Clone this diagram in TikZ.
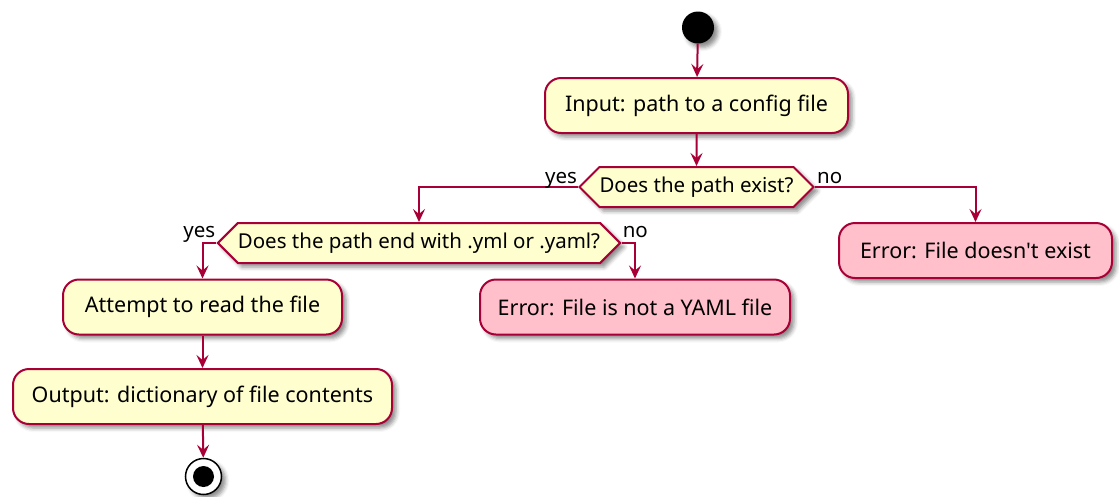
\documentclass[tikz,border=0pt]{standalone}
\usepackage{fontspec}
\setmainfont{Noto Sans}[Ligatures=TeXOff]
\usetikzlibrary{arrows.meta,shapes.symbols,shadows.blur}
\definecolor{umlline}{HTML}{A80036}
\definecolor{umlfill}{HTML}{FEFECE}
\definecolor{errfill}{HTML}{FFC0CB}
\tikzset{
  shadowed/.style={blur shadow={shadow xshift=4pt,shadow yshift=-4pt,shadow blur radius=4pt,shadow opacity=45}},
  action/.style={rectangle,rounded corners=16pt,draw=umlline,line width=2pt,fill=umlfill,
     minimum height=55pt,inner sep=0pt,font=\fontsize{21.5}{24}\selectfont,shadowed},
  erraction/.style={action,fill=errfill},
  decision/.style={signal,signal to=east and west,signal pointer angle=90,draw=umlline,line width=2pt,
     fill=umlfill,minimum height=40pt,inner sep=0pt,font=\fontsize{20.5}{23}\selectfont,shadowed},
  flow/.style={draw=umlline,line width=2pt,-{Stealth[length=13pt,width=12pt,inset=5pt]}},
  guard/.style={font=\fontsize{20.5}{23}\selectfont,inner sep=0pt},
}
\begin{document}
\begin{tikzpicture}[x=1pt,y=-1pt]
\useasboundingbox (0,0) rectangle (1119,496);
% start and end markers
\node (start) [circle,fill=black,minimum size=32pt,inner sep=0pt,shadowed] at (698,27.5) {};
\node (stop) [circle,draw=black,line width=1.5pt,fill=white,minimum size=36pt,inner sep=0pt,shadowed] at (203.5,476.5) {};
\node (stopdot) [circle,fill=black,minimum size=21pt,inner sep=0pt] at (stop.center) {};
% actions
\node (input) [action,minimum width=303pt] at (696.5,105.5) {Input: path to a config file};
\node (exists) [decision,minimum width=233pt] at (696.5,187) {Does the path exist?};
\node (ext) [decision,minimum width=398pt] at (419,243) {Does the path end with .yml or .yaml?};
\node (nofile) [erraction,minimum width=273pt] at (975.5,250.5) {Error: File doesn't exist};
\node (read) [action,minimum width=279pt] at (202.5,307) {Attempt to read the file};
\node (noyaml) [erraction,minimum width=310pt] at (635,307) {Error: File is not a YAML file};
\node (output) [action,minimum width=379pt] at (202.5,396.5) {Output: dictionary of file contents};
% connectors
\draw[flow] (start) -- (input);
\draw[flow] (input) -- (exists);
\draw[flow] (exists.west) -| (ext.north);
\draw[flow] (exists.east) -| (nofile.north);
\draw[flow] (ext.west) -| (read.north);
\draw[flow] (ext.east) -| (noyaml.north);
\draw[flow] (read) -- (output);
\draw[flow] (output) -- (stop);
% guard labels
\node (yes1) [guard,anchor=base east] at ([xshift=-1pt,yshift=4pt]exists.west) {yes};
\node (no1) [guard,anchor=base west] at ([xshift=2pt,yshift=4pt]exists.east) {no};
\node (yes2) [guard,anchor=base east] at ([xshift=-1pt,yshift=6pt]ext.west) {yes};
\node (no2) [guard,anchor=base west] at ([xshift=1pt,yshift=6pt]ext.east) {no};
\end{tikzpicture}
\end{document}
